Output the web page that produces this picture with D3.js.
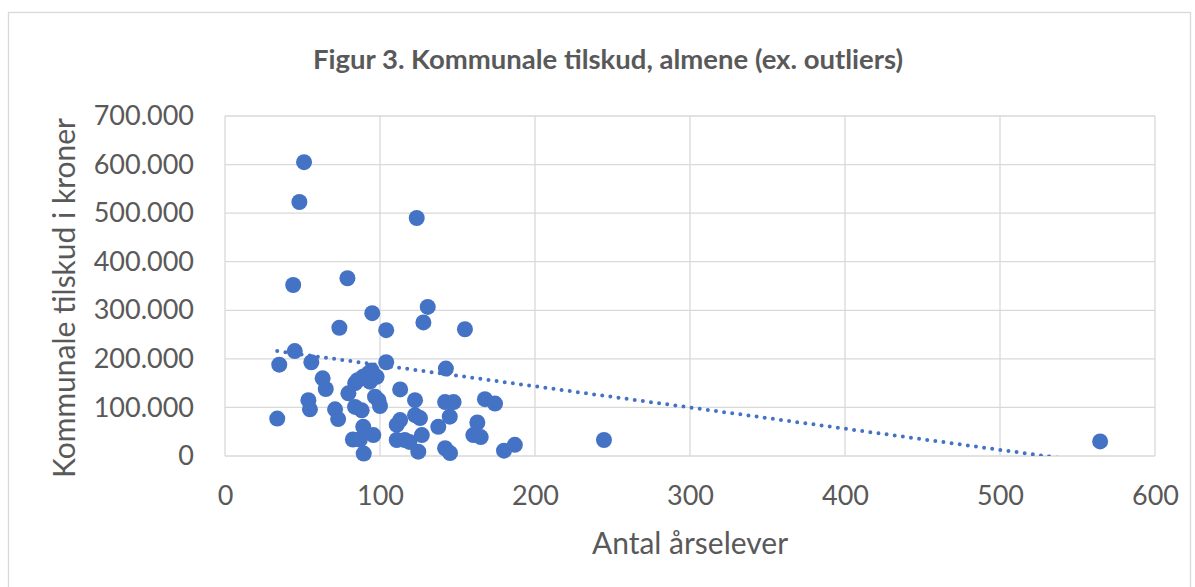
<!DOCTYPE html>
<html><head><meta charset="utf-8">
<script src="https://cdn.jsdelivr.net/npm/d3@7"></script>
<style>
html,body{margin:0;padding:0;background:#fff;}
svg{display:block;font-family:Lato,"Open Sans",sans-serif;}
</style></head>
<body><svg id="chart" width="1195" height="587"></svg>
<script>
const titleText = "Figur 3. Kommunale tilskud, almene (ex. outliers)";
const xAxisTitle = "Antal årselever";
const yAxisTitle = "Kommunale tilskud i kroner";
const xTicks = [0, 100, 200, 300, 400, 500, 600];
const yTicks = [0, 100000, 200000, 300000, 400000, 500000, 600000, 700000];
// Antal årselever
const xValues = [33.7, 35, 44, 45, 48, 51, 53.8, 54.8, 55.7, 63, 65, 71, 73, 73.8, 79, 79.6,
  82.5, 87, 83.9, 88.2, 89.2, 89.5, 95.7, 99, 96.8, 100,
  84, 85.5, 89, 92.5, 94.6, 97.8, 93.5,
  104, 95, 104, 110.8, 113, 113, 110.8, 116, 119, 122.6, 122.6, 125.8, 123.7, 127, 124.7,
  128, 130.8, 137.6, 142.5, 142, 147.5, 145, 142, 145.2, 154.8, 160.2, 162.8, 165, 167.7,
  174.2, 180, 187, 244.5, 564.6];
// Kommunale tilskud (kr)
const yValues = [77000, 188000, 352000, 216000, 523000, 605000, 115000, 96000, 193000, 160000, 138000, 96000, 76000, 264000, 366000, 129000,
  34000, 34000, 101000, 94000, 60000, 5000, 43000, 115000, 122000, 103000,
  150000, 156000, 163000, 170000, 176000, 163000, 153000,
  259000, 294000, 193000, 64000, 74000, 137000, 33000, 33000, 29000, 115000, 84000, 78000, 490000, 43000, 9000,
  275000, 307000, 60000, 180000, 111000, 111000, 81000, 16000, 6000, 261000, 43000, 69000, 39000, 117000,
  108000, 11000, 23000, 33000, 30000];
// Linear trendline endpoints
const trendX = [33.7, 564.6];
const trendY = [216000, -15500];

const svg = d3.select("#chart");
svg.append("rect").attr("width",1195).attr("height",587).attr("fill","#fff");
svg.append("rect").attr("x",8.5).attr("y",12.5).attr("width",1182).attr("height",590)
  .attr("fill","none").attr("stroke","#d9d9d9").attr("stroke-width",1.3);

const L = 225, R = 1155, T = 116, B = 456;
const x = d3.scaleLinear().domain([0,600]).range([L,R]);
const y = d3.scaleLinear().domain([0,700000]).range([B,T]);
const loc = d3.formatLocale({decimal:",", thousands:".", grouping:[3], currency:["","kr"]});
const fmt = loc.format(",d");

const grid = svg.append("g");
grid.selectAll("line.h").data(yTicks).join("line")
  .attr("x1",L).attr("x2",R).attr("y1",d=>y(d)).attr("y2",d=>y(d))
  .attr("stroke","#d9d9d9").attr("stroke-width",1.3);
grid.selectAll("line.v").data(xTicks).join("line")
  .attr("y1",T).attr("y2",B).attr("x1",d=>x(d)).attr("x2",d=>x(d))
  .attr("stroke","#d9d9d9").attr("stroke-width",1.3);

const yAxis = d3.axisLeft(y).tickValues(yTicks).tickFormat(fmt).tickSize(0).tickPadding(31);
const gy = svg.append("g").attr("transform",`translate(${L},0)`).call(yAxis);
gy.select(".domain").remove();
gy.selectAll("text").attr("fill","#595959").style("font-size","27px").style("font-family","Lato");

const xAxis = d3.axisBottom(x).tickValues(xTicks).tickFormat(d3.format("d")).tickSize(0).tickPadding(30);
const gx = svg.append("g").attr("transform",`translate(0,${B})`).call(xAxis);
gx.select(".domain").remove();
gx.selectAll("text").attr("fill","#595959").style("font-size","27px").style("font-family","Lato");

svg.append("text").attr("x",608).attr("y",69).attr("text-anchor","middle")
  .attr("fill","#595959").style("font-size","27.5px").style("font-weight","bold").text(titleText);
svg.append("text").attr("x",690).attr("y",554).attr("text-anchor","middle")
  .attr("fill","#595959").style("font-size","30px").text(xAxisTitle);
svg.append("text").attr("transform","translate(75,298) rotate(-90)").attr("text-anchor","middle")
  .attr("fill","#595959").style("font-size","30px").text(yAxisTitle);

svg.append("clipPath").attr("id","plotclip").append("rect")
  .attr("x",L).attr("y",T-10).attr("width",R-L).attr("height",B-T+10);

const pts = xValues.map((v,i)=>({x:v,y:yValues[i]}));
svg.append("g").selectAll("circle").data(pts).join("circle")
  .attr("cx",d=>x(d.x)).attr("cy",d=>y(d.y)).attr("r",8).attr("fill","#4472C4");

svg.append("line").attr("clip-path","url(#plotclip)")
  .attr("x1",x(trendX[0])).attr("y1",y(trendY[0])).attr("x2",x(trendX[1])).attr("y2",y(trendY[1]))
  .attr("stroke","#4472C4").attr("stroke-width",4).attr("stroke-linecap","round")
  .attr("stroke-dasharray","0 8.2");
</script></body></html>
